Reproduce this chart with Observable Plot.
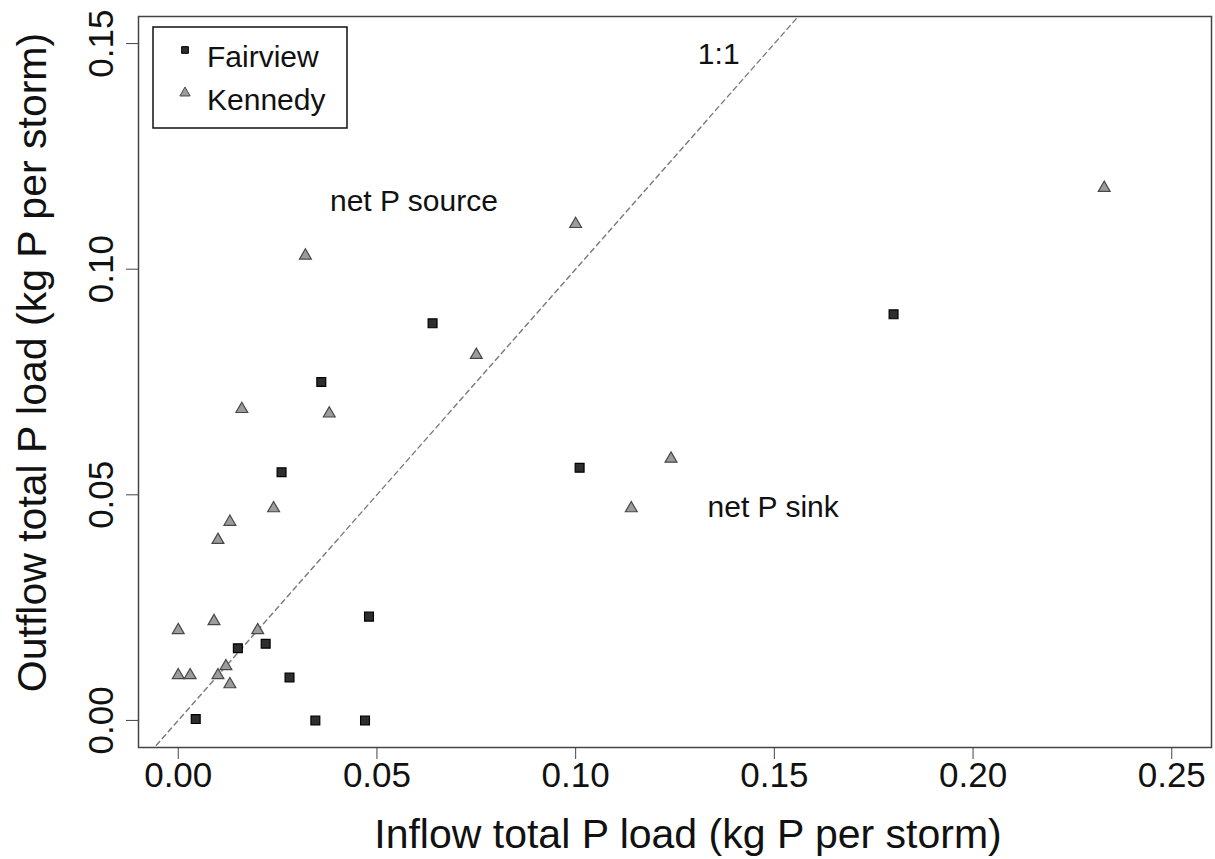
<!DOCTYPE html>
<html>
<head>
<meta charset="utf-8">
<script src="https://cdn.jsdelivr.net/npm/d3@7"></script>
<script src="https://cdn.jsdelivr.net/npm/@observablehq/plot@0.6"></script>
<style>
  body { margin: 0; background: #fff; }
  #chart svg { display: block; }
</style>
</head>
<body>
<div id="chart"></div>
<script>
// ---- data ----
const seriesNames = ["Fairview", "Kennedy"];

const fairviewInflow  = [0.064, 0.036, 0.026, 0.048, 0.015, 0.022, 0.028, 0.0044, 0.0345, 0.047, 0.101, 0.180];
const fairviewOutflow = [0.088, 0.075, 0.055, 0.023, 0.016, 0.017, 0.0095, 0.0003, 0.000, 0.000, 0.056, 0.090];

const kennedyInflow  = [0.075, 0.016, 0.038, 0.024, 0.013, 0.010, 0.009, 0.000, 0.020, 0.000, 0.003, 0.010, 0.012, 0.013, 0.032, 0.100, 0.124, 0.114, 0.233];
const kennedyOutflow = [0.081, 0.069, 0.068, 0.047, 0.044, 0.040, 0.022, 0.020, 0.020, 0.010, 0.010, 0.010, 0.012, 0.008, 0.103, 0.110, 0.058, 0.047, 0.118];

const xTicks = [0.00, 0.05, 0.10, 0.15, 0.20, 0.25];
const yTicks = [0.00, 0.05, 0.10, 0.15];
const xDomain = [-0.01, 0.26];
const yDomain = [-0.006, 0.156];
const oneToOne = [-0.01, 0.26];

const annoText = ["1:1", "net P source", "net P sink"];
const annoX = [0.136, 0.0593, 0.1497];
const annoY = [0.1475, 0.1151, 0.0473];

const xTitle = "Inflow total P load (kg P per storm)";
const yTitle = "Outflow total P load (kg P per storm)";

// ---- build tables ----
const fairview = fairviewInflow.map((x, i) => ({x, y: fairviewOutflow[i]}));
const kennedy = kennedyInflow.map((x, i) => ({x, y: kennedyOutflow[i]}));
const diag = oneToOne.map(v => ({x: v, y: v}));
const fmt = d3.format(".2f");
const fontFamily = "'Liberation Sans', Arial, Helvetica, sans-serif";

const sqFill = "#2e2e2e", sqStroke = "#000";
const triFill = "#9c9c9c", triStroke = "#474747";

// legend drawn as a custom render mark inside the plot frame
function legendMark(index, scales, values, dims) {
  const g = d3.create("svg:g").attr("font-family", fontFamily).attr("text-anchor", "start");
  const x0 = dims.marginLeft + 15, y0 = dims.marginTop + 11;
  g.append("rect")
    .attr("x", x0).attr("y", y0).attr("width", 194).attr("height", 101)
    .attr("fill", "white").attr("stroke", "#111").attr("stroke-width", 1.5);
  const rows = [
    {name: seriesNames[0], sym: d3.symbolSquare, size: 45, fill: sqFill, stroke: sqStroke, cy: 23, base: 40},
    {name: seriesNames[1], sym: d3.symbolTriangle, size: 46, fill: triFill, stroke: triStroke, cy: 66, base: 83}
  ];
  for (const r of rows) {
    g.append("path")
      .attr("d", d3.symbol(r.sym, r.size)())
      .attr("transform", `translate(${x0 + 32},${y0 + r.cy})`)
      .attr("fill", r.fill).attr("stroke", r.stroke).attr("stroke-width", 1);
    g.append("text")
      .attr("x", x0 + 54).attr("y", y0 + r.base)
      .attr("text-anchor", "start")
      .attr("font-size", 30).attr("fill", "#111")
      .text(r.name);
  }
  return g.node();
}

const chart = Plot.plot({
  width: 1215,
  height: 859,
  marginLeft: 138,
  marginRight: 4,
  marginTop: 16,
  marginBottom: 112,
  x: {domain: xDomain},
  y: {domain: yDomain},
  style: {fontFamily, background: "white", color: "#111"},
  marks: [
    Plot.line(diag, {x: "x", y: "y", stroke: "#7a7a7a", strokeWidth: 1.4, strokeDasharray: "5,4", clip: true}),
    Plot.frame({stroke: "#444", strokeWidth: 1.5}),
    Plot.axisX({ticks: xTicks, tickSize: 12, tickPadding: 3, fontSize: 35, tickFormat: fmt, label: null, stroke: "#444"}),
    Plot.axisY({ticks: yTicks, tickSize: 12, fill: "none", stroke: "#444", label: null}),
    Plot.text(yTicks, {y: d => d, text: d => fmt(d), frameAnchor: "left", textAnchor: "middle", lineAnchor: "middle",
                       dx: -37, rotate: -90, fontSize: 35}),
    Plot.text([xTitle], {text: d => d, frameAnchor: "bottom", textAnchor: "middle", lineAnchor: "middle",
                         dx: 13, dy: 87, fontSize: 41}),
    Plot.text([yTitle], {text: d => d, frameAnchor: "left", textAnchor: "middle", lineAnchor: "middle",
                         dx: -106, dy: -19.5, rotate: -90, fontSize: 41}),
    Plot.dot(kennedy, {x: "x", y: "y", symbol: "triangle", r: 4.4, fill: triFill, stroke: triStroke, strokeWidth: 1.2}),
    Plot.dot(fairview, {x: "x", y: "y", symbol: "square", r: 5, fill: sqFill, stroke: sqStroke, strokeWidth: 1.2}),
    Plot.text(annoText, {x: (d, i) => annoX[i], y: (d, i) => annoY[i], text: d => d, fontSize: 30, fill: "#111"}),
    legendMark
  ]
});

document.getElementById("chart").appendChild(chart);
</script>
</body>
</html>
